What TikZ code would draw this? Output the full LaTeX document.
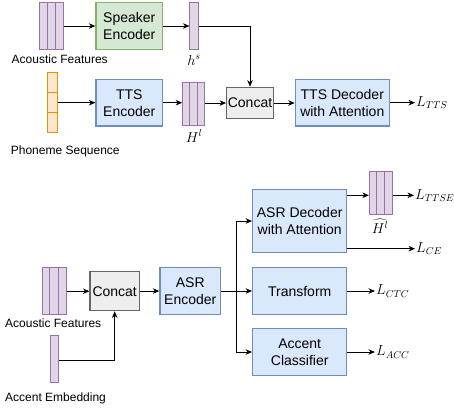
\documentclass[tikz,border=0pt]{standalone}
\usepackage{fontspec}
\setmainfont{Liberation Sans}
\usetikzlibrary{arrows.meta,calc}

\definecolor{bluefill}{HTML}{DAE8FC}
\definecolor{bluedraw}{HTML}{6C8EBF}
\definecolor{greenfill}{HTML}{D5E8D4}
\definecolor{greendraw}{HTML}{82B366}
\definecolor{purpfill}{HTML}{E1D5E7}
\definecolor{purpdraw}{HTML}{9673A6}
\definecolor{orgfill}{HTML}{FFE6CC}
\definecolor{orgdraw}{HTML}{D79B00}
\definecolor{grayfill}{HTML}{EEEEEE}
\definecolor{graydraw}{HTML}{666666}

\tikzset{
  txt/.style={font=\fontsize{12}{14.5}\selectfont},
  block/.style={font=\fontsize{14}{17}\selectfont, draw, line width=1.2pt, align=center, inner sep=0pt},
  bluebox/.style={block, fill=bluefill, draw=bluedraw},
  greenbox/.style={block, fill=greenfill, draw=greendraw},
  graybox/.style={block, fill=grayfill, draw=graydraw},
  vec/.style={draw=purpdraw, fill=purpfill, line width=1pt, inner sep=0pt},
  ovec/.style={draw=orgdraw, fill=orgfill, line width=1pt, inner sep=0pt},
  arr/.style={line width=0.9pt, -{Stealth[length=6.5pt,width=5.5pt,inset=2pt]}},
  ln/.style={line width=0.9pt},
  lossl/.style={anchor=west, inner sep=1pt, font=\fontsize{14}{16}\selectfont},
  mathl/.style={inner sep=0pt, font=\fontsize{14}{16}\selectfont},
}

% split a vector node into equal columns or rows
\newcommand{\colsplit}[2]{%
  \foreach \k in {1,...,#2}{%
    \ifnum\k<#2
      \draw[draw=purpdraw, line width=1pt]
        ($(#1.north west)!\k/#2!(#1.north east)$) -- ($(#1.south west)!\k/#2!(#1.south east)$);
    \fi}}
\newcommand{\rowsplit}[2]{%
  \foreach \k in {1,...,#2}{%
    \ifnum\k<#2
      \draw[draw=orgdraw, line width=1pt]
        ($(#1.north west)!\k/#2!(#1.south west)$) -- ($(#1.north east)!\k/#2!(#1.south east)$);
    \fi}}

\begin{document}
\begin{tikzpicture}[x=1pt, y=-1pt]
\useasboundingbox (0,0) rectangle (454,408);

% ---------------- TTS branch ----------------
\node[vec, minimum width=24pt, minimum height=46.6pt] (af1) at (51.3,26) {};
\colsplit{af1}{3}
\node[txt, inner sep=0pt] (af1l) at (59.7,59) {Acoustic Features};

\node[greenbox, minimum width=66.7pt, minimum height=46.6pt] (spk) at (129.3,26) {Speaker\\Encoder};

\node[vec, minimum width=8.7pt, minimum height=46.6pt] (hs) at (194.3,26) {};
\node[mathl] (hsl) at (194,60) {$h^s$};

\node[ovec, minimum width=10pt, minimum height=60pt] (ph) at (52.3,102.7) {};
\rowsplit{ph}{3}
\node[txt, inner sep=0pt, anchor=west] (phl) at (10.7,151) {Phoneme Sequence};

\node[bluebox, minimum width=66.7pt, minimum height=46.7pt] (ttsenc) at (129.3,102.7) {TTS\\Encoder};

\node[vec, minimum width=22pt, minimum height=42.6pt] (hl) at (193.7,104) {};
\colsplit{hl}{3}
\node[mathl] (hll) at (194,136) {$H^l$};

\node[graybox, minimum width=46.6pt, minimum height=31.4pt] (cat1) at (250,103) {Concat};

\node[bluebox, minimum width=94pt, minimum height=46.7pt] (ttsdec) at (342.3,102.7) {TTS Decoder\\with Attention};
\coordinate (ltts) at (415,102.7);
\node[lossl] at (ltts) {$L_{TTS}$};

\draw[arr] (af1) -- (spk);
\draw[arr] (spk) -- (hs);
\draw[arr] (hs.east) -| (cat1.north);
\draw[arr] (ph) -- (ttsenc);
\draw[arr] (ttsenc) -- (ttsenc -| hl.west);
\draw[arr] (hl.east |- cat1) -- (cat1);
\draw[arr] (cat1) -- (cat1 -| ttsdec.west);
\draw[arr] (ttsdec) -- (ltts);

% ---------------- ASR branch ----------------
\node[vec, minimum width=24pt, minimum height=47.4pt] (af2) at (54,291) {};
\colsplit{af2}{3}
\node[txt, inner sep=0pt, anchor=west] (af2l) at (5,323) {Acoustic Features};

\node[vec, minimum width=8.3pt, minimum height=46.7pt] (ae) at (54.2,359.3) {};
\node[txt, inner sep=0pt, anchor=west] (ael) at (5,398) {Accent Embedding};

\node[graybox, minimum width=49.3pt, minimum height=39pt] (cat2) at (114.7,291.2) {Concat};
\node[bluebox, minimum width=60.7pt, minimum height=47.4pt] (asrenc) at (190.3,291) {ASR\\Encoder};

\node[bluebox, minimum width=94pt, minimum height=63.4pt] (asrdec) at (299.7,221) {ASR Decoder\\with Attention};
\node[bluebox, minimum width=94pt, minimum height=47.4pt] (trans) at (299.7,291) {Transform};
\node[bluebox, minimum width=94pt, minimum height=46.6pt] (acc) at (299.7,352) {Accent\\Classifier};

\node[vec, minimum width=22.7pt, minimum height=42.7pt] (hh) at (380.7,192.7) {};
\colsplit{hh}{3}
\node[mathl, anchor=north] (hhl) at (380,218.5) {$\widehat{H^l}$};

\coordinate (split) at (236.7,291);
\coordinate (lttse) at (414,195.3);
\coordinate (lce) at (415,248.7);
\coordinate (lctc) at (375,291);
\coordinate (lacc) at (375,352);
\node[lossl] at (lttse) {$L_{TTSE}$};
\node[lossl] at (lce) {$L_{CE}$};
\node[lossl] at (lctc) {$L_{CTC}$};
\node[lossl] at (lacc) {$L_{ACC}$};

\draw[arr] (af2.east |- cat2) -- (cat2);
\draw[arr] (ae.east |- 0,360) -| (cat2.south);
\draw[arr] (cat2.east |- asrenc) -- (asrenc);
\draw[ln] (asrenc.east) -- (split);
\draw[arr] (split) |- (asrdec.west);
\draw[arr] (split) -- (trans.west);
\draw[arr] (split) |- (acc.west);
\draw[arr] (asrdec.east |- lttse) -- (hh.west |- lttse);
\draw[arr] (hh.east |- lttse) -- (lttse);
\draw[arr] (asrdec.east |- lce) -- (lce);
\draw[arr] (trans) -- (lctc);
\draw[arr] (acc) -- (lacc);
\end{tikzpicture}
\end{document}
